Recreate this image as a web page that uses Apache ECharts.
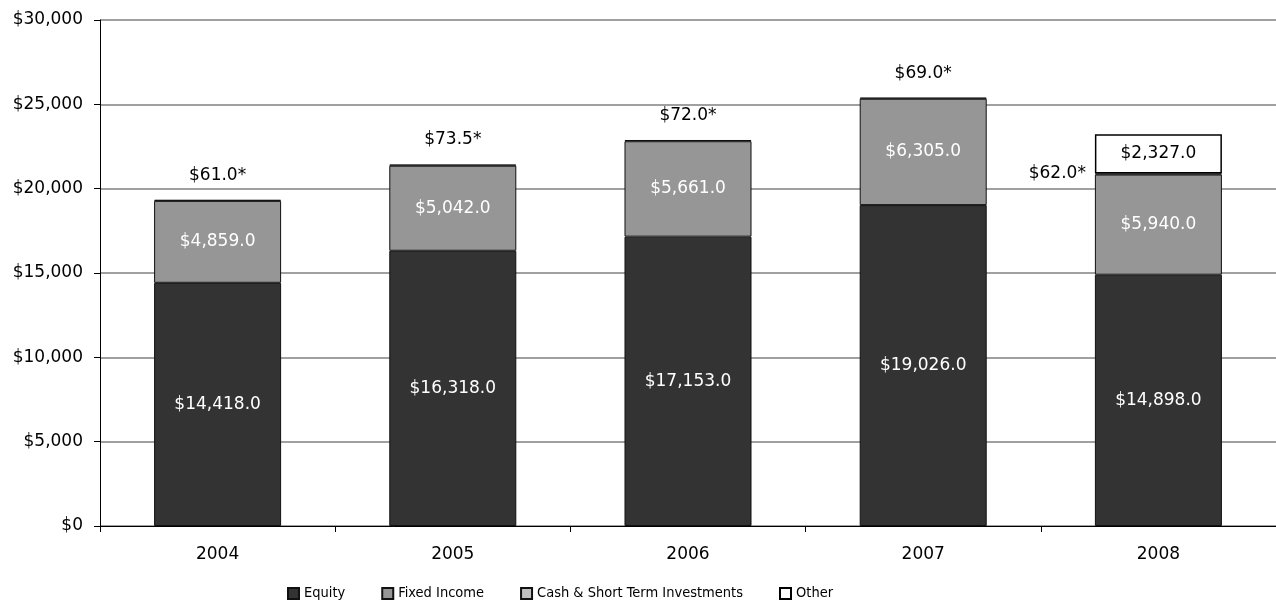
<!DOCTYPE html>
<html>
<head>
<meta charset="utf-8">
<script src="https://cdn.jsdelivr.net/npm/echarts@6/dist/echarts.min.js"></script>
<style>
  html, body { margin: 0; padding: 0; background: #fff; }
  #chart { width: 1276px; height: 610px; }
</style>
</head>
<body>
<div id="chart"></div>
<script>
// 数据
const years = ['2004', '2005', '2006', '2007', '2008'];
const equity = [14418.0, 16318.0, 17153.0, 19026.0, 14898.0];
const fixedIncome = [4859.0, 5042.0, 5661.0, 6305.0, 5940.0];
const cashShort = [61.0, 73.5, 72.0, 69.0, 62.0];
const other = [null, null, null, null, 2327.0];
const yTicks = [0, 5000, 10000, 15000, 20000, 25000, 30000];

const FONT = 'DejaVu Sans';
const NARROW = '"Liberation Sans Narrow", "DejaVu Sans Condensed", sans-serif';

function money(v) {
  return '$' + Number(v).toLocaleString('en-US', {minimumFractionDigits: 1, maximumFractionDigits: 1});
}

const chart = echarts.init(document.getElementById('chart'));

const barBorder = {borderColor: '#111', borderWidth: 1};

const option = {
  animation: false,
  textStyle: {fontFamily: FONT},
  grid: {left: 100, right: 0, top: 20, bottom: 84},
  legend: {
    bottom: 4,
    left: 282,
    icon: 'rect',
    itemWidth: 11,
    itemHeight: 11,
    itemGap: 36,
    textStyle: {fontFamily: NARROW, fontSize: 14.5, color: '#000'},
    data: ['Equity', 'Fixed Income', 'Cash & Short Term Investments', 'Other']
  },
  xAxis: {
    type: 'category',
    data: years,
    axisLine: {lineStyle: {color: '#000', width: 1}},
    axisTick: {show: true, length: 6, lineStyle: {color: '#000'}},
    axisLabel: {color: '#000', fontSize: 17, margin: 20, fontFamily: FONT}
  },
  yAxis: {
    type: 'value',
    min: yTicks[0],
    max: yTicks[yTicks.length - 1],
    interval: 5000,
    axisLine: {show: true, lineStyle: {color: '#000', width: 1}},
    axisTick: {show: true, length: 6, lineStyle: {color: '#000'}},
    axisLabel: {
      color: '#000', fontSize: 17, margin: 17, fontFamily: FONT,
      formatter: v => '$' + v.toLocaleString('en-US')
    },
    splitLine: {lineStyle: {color: '#808080', width: 1.5}}
  },
  series: [
    {
      name: 'Equity',
      type: 'bar',
      stack: 'total',
      barWidth: '54%',
      data: equity,
      itemStyle: Object.assign({color: '#333333'}, barBorder),
      label: {
        show: true, position: 'inside', color: '#fff', fontSize: 17, fontFamily: FONT,
        formatter: p => money(p.value)
      }
    },
    {
      name: 'Fixed Income',
      type: 'bar',
      stack: 'total',
      data: fixedIncome,
      itemStyle: Object.assign({color: '#969696'}, barBorder),
      label: {
        show: true, position: 'inside', color: '#fff', fontSize: 17, fontFamily: FONT,
        formatter: p => money(p.value)
      }
    },
    {
      name: 'Cash & Short Term Investments',
      type: 'bar',
      stack: 'total',
      data: cashShort.map((v, i) => {
        if (other[i] != null) {
          return {value: v, label: {position: 'left', distance: 9}};
        }
        return v;
      }),
      itemStyle: Object.assign({color: '#c0c0c0'}, barBorder),
      label: {
        show: true, position: 'top', distance: 16, color: '#000', fontSize: 17, fontFamily: FONT,
        formatter: p => money(p.value) + '*'
      }
    },
    {
      name: 'Other',
      type: 'bar',
      stack: 'total',
      data: other,
      itemStyle: {color: '#ffffff', borderColor: '#000', borderWidth: 1.5},
      label: {
        show: true, position: 'inside', color: '#000', fontSize: 17, fontFamily: FONT,
        formatter: p => money(p.value)
      }
    }
  ]
};

chart.setOption(option);
</script>
</body>
</html>
